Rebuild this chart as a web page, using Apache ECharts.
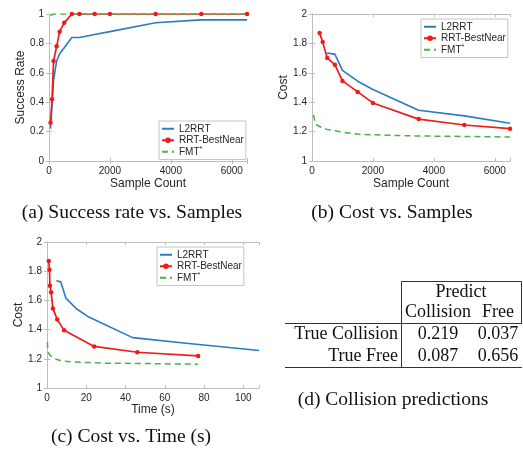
<!DOCTYPE html>
<html><head><meta charset="utf-8">
<script src="https://cdn.jsdelivr.net/npm/echarts@6.0.0/dist/echarts.min.js"></script>
<style>html,body{margin:0;padding:0;background:#fff}#c{width:523px;height:453px}</style>
</head><body><div id="c"></div>
<script>
// ---- data ----
const seriesNames = ['L2RRT', 'RRT-BestNear', 'FMT*'];
const samplesSuccess = [50,100,150,250,350,500,750,1000,1500,2000,3500,5000,6500];
const successL2RRT = [0.22,0.38,0.55,0.68,0.73,0.77,0.84,0.84,0.86,0.88,0.94,0.96,0.96];
const successBestNear = [0.26,0.42,0.68,0.78,0.88,0.94,1,1,1,1,1,1,1];
const successFMT = [0.99,1,1,1,1,1,1,1,1,1,1,1,1];

const samplesL2RRTCost = [500,750,1000,1500,2000,3500,5000,6500];
const costL2RRT = [1.734,1.727,1.616,1.543,1.486,1.345,1.307,1.257];
const samplesBestNearCost = [250,350,500,750,1000,1500,2000,3500,5000,6500];
const costBestNear = [1.87,1.81,1.70,1.655,1.545,1.47,1.395,1.285,1.245,1.22];
const samplesFMTCost = [50,100,150,250,350,500,750,1000,1500,2000,3500,5000,6500];
const costFMT = [1.314,1.26,1.245,1.235,1.225,1.215,1.207,1.195,1.183,1.178,1.17,1.167,1.163];

const timeL2RRT = [4.8,7.0,9.6,15,21.3,43.6,71,108];
const timeBestNear = [0.9,1.25,1.5,2.1,3.0,5.2,8.7,24,46,77];
const timeFMT = [0.2,0.4,0.6,1.0,1.4,2.2,3.5,5,9,14,30,52,77];

const tableColHeader = 'Predict';
const tableCols = ['Collision', 'Free'];
const tableRows = ['True Collision', 'True Free'];
const tableValues = [['0.219','0.037'],['0.087','0.656']];

const captions = ['(a) Success rate vs. Samples', '(b) Cost vs. Samples', '(c) Cost vs. Time (s)', '(d) Collision predictions'];

// ---- styles ----
const SANS = '"Liberation Sans", Arial, sans-serif';
const SERIF = '"Liberation Serif", "Times New Roman", serif';
const AX = '#bdbdbd', TXT = '#262626';
const BLUE = '#2a7bc0', RED = '#ee1b1b', GREEN = '#45b34a';
const zip = (xs, ys) => xs.map((x, i) => [x, ys[i]]);

const grids = [
  {left:49, top:14, width:198, height:147},
  {left:312, top:14, width:198, height:147},
  {left:47, top:242, width:212, height:146}
].map(g => Object.assign(g, {outerBoundsMode:'none', containLabel:false}));

function xAx(gi, max, interval, name, gap) {
  return {
    gridIndex:gi, type:'value', min:0, max:max, interval:interval,
    name:name, nameLocation:'middle', nameGap:gap,
    nameTextStyle:{fontSize:12, color:TXT, fontFamily:SANS},
    axisLine:{show:true, lineStyle:{color:AX, width:1}},
    axisTick:{show:true, inside:true, length:3, lineStyle:{color:AX}},
    axisLabel:{fontSize:10, color:TXT, fontFamily:SANS, margin:5,
      formatter: v => (Math.abs(v % interval) < 1e-9 ? String(v) : '')},
    splitLine:{show:false}
  };
}
function xTop(gi, max, interval) {
  return {gridIndex:gi, type:'value', position:'top', min:0, max:max, interval:interval,
    axisLine:{show:true, lineStyle:{color:AX, width:1}},
    axisTick:{show:true, inside:true, length:3, lineStyle:{color:AX}},
    axisLabel:{show:false}, splitLine:{show:false}};
}
function yAx(gi, min, max, name, gap) {
  return {
    gridIndex:gi, type:'value', min:min, max:max, interval:0.2,
    name:name, nameLocation:'middle', nameGap:gap, nameRotate:90,
    nameTextStyle:{fontSize:12, color:TXT, fontFamily:SANS},
    axisLine:{show:true, lineStyle:{color:AX, width:1}},
    axisTick:{show:true, inside:true, length:3, lineStyle:{color:AX}},
    axisLabel:{fontSize:10, color:TXT, fontFamily:SANS, margin:5,
      formatter: v => String(+(+v).toFixed(1))},
    splitLine:{show:false}
  };
}
function yRight(gi, min, max) {
  return {gridIndex:gi, type:'value', position:'right', min:min, max:max, interval:0.2,
    axisLine:{show:true, lineStyle:{color:AX, width:1}},
    axisTick:{show:true, inside:true, length:3, lineStyle:{color:AX}},
    axisLabel:{show:false}, splitLine:{show:false}};
}

const xAxes = [
  xAx(0, 6500, 2000, 'Sample Count', 17),
  xAx(1, 6500, 2000, 'Sample Count', 17),
  xAx(2, 108, 20, 'Time (s)', 15),
  xTop(0, 6500, 2000), xTop(1, 6500, 2000), xTop(2, 108, 20)
];
const yAxes = [
  yAx(0, 0, 1, 'Success Rate', 20),
  yAx(1, 1, 2, 'Cost', 20),
  yAx(2, 1, 2, 'Cost', 18),
  yRight(0, 0, 1), yRight(1, 1, 2), yRight(2, 1, 2)
];

function mkSeries(kind, gi, data) {
  const base = {type:'line', xAxisIndex:gi, yAxisIndex:gi, data:data, animation:false, silent:true};
  if (kind === 0) return Object.assign(base, {name:seriesNames[0], symbol:'none', color:BLUE,
    lineStyle:{color:BLUE, width:1.6}});
  if (kind === 1) return Object.assign(base, {name:seriesNames[1], symbol:'circle', symbolSize:4.5,
    color:RED, itemStyle:{color:RED}, lineStyle:{color:RED, width:1.7}});
  return Object.assign(base, {name:seriesNames[2], symbol:'none', color:GREEN,
    lineStyle:{color:GREEN, width:1.5, type:[6,4]}});
}

const series = [
  mkSeries(0, 0, zip(samplesSuccess, successL2RRT)),
  mkSeries(1, 0, zip(samplesSuccess, successBestNear)),
  mkSeries(2, 0, zip(samplesSuccess, successFMT)),
  mkSeries(0, 1, zip(samplesL2RRTCost, costL2RRT)),
  mkSeries(1, 1, zip(samplesBestNearCost, costBestNear)),
  mkSeries(2, 1, zip(samplesFMTCost, costFMT)),
  mkSeries(0, 2, zip(timeL2RRT, costL2RRT)),
  mkSeries(1, 2, zip(timeBestNear, costBestNear)),
  mkSeries(2, 2, zip(timeFMT, costFMT))
];

const hiddenSym = {color:'rgba(0,0,0,0)', borderWidth:0, opacity:0};
function mkLegend(left, top) {
  return {
    left:left, top:top, orient:'vertical',
    data:[{name:seriesNames[0], itemStyle:hiddenSym}, {name:seriesNames[1]}, {name:seriesNames[2], itemStyle:hiddenSym}],
    borderColor:'#c4c4c4', borderWidth:1, padding:[2,2,2,2], backgroundColor:'#fff',
    itemWidth:12, itemHeight:7, itemGap:0, selectedMode:false,
    textStyle:{fontSize:10, color:TXT, fontFamily:SANS, lineHeight:11.5,
      rich:{n:{fontSize:10, color:TXT, fontFamily:SANS}, s:{fontSize:7, color:TXT, fontFamily:SANS, verticalAlign:'top', padding:[0,0,4,0]}}},
    formatter: n => n === 'FMT*' ? '{n|FMT}{s|*}' : n
  };
}
const legends = [mkLegend(159, 121), mkLegend(421, 19), mkLegend(157, 247)];

// ---- graphics: captions and table ----
const graphics = [];
function txt(x, y, text, font, align) {
  graphics.push({type:'text', x:x, y:y, silent:true,
    style:{text:text, font:font, fill:'#111', align:align || 'center', verticalAlign:'middle',
      textAlign:align || 'center', textVerticalAlign:'middle'}});
}
function ln(x1, y1, x2, y2) {
  graphics.push({type:'line', silent:true, shape:{x1:x1, y1:y1, x2:x2, y2:y2},
    style:{stroke:'#333', lineWidth:1}});
}
const capFont = '19.5px ' + SERIF;
txt(132, 213, captions[0], capFont);
txt(392, 213, captions[1], capFont);
txt(131, 437, captions[2], capFont);
txt(393, 400, captions[3], capFont);

const tFont = '18px ' + SERIF;
ln(401.5, 281.5, 521.5, 281.5);
ln(401.5, 281.5, 401.5, 367.5);
ln(521.5, 281.5, 521.5, 323.5);
ln(285, 323.5, 522, 323.5);
ln(285, 367.5, 522, 367.5);
txt(461, 292, tableColHeader, tFont);
txt(438, 312, tableCols[0], tFont);
txt(498, 312, tableCols[1], tFont);
txt(398, 334, tableRows[0], tFont, 'right');
txt(398, 356, tableRows[1], tFont, 'right');
txt(438, 334, tableValues[0][0], tFont);
txt(498, 334, tableValues[0][1], tFont);
txt(438, 356, tableValues[1][0], tFont);
txt(498, 356, tableValues[1][1], tFont);

const chart = echarts.init(document.getElementById('c'), null, {renderer:'canvas'});
chart.setOption({
  animation:false,
  backgroundColor:'#fff',
  grid:grids,
  xAxis:xAxes,
  yAxis:yAxes,
  legend:legends,
  series:series,
  graphic:graphics
});
</script>
</body></html>
